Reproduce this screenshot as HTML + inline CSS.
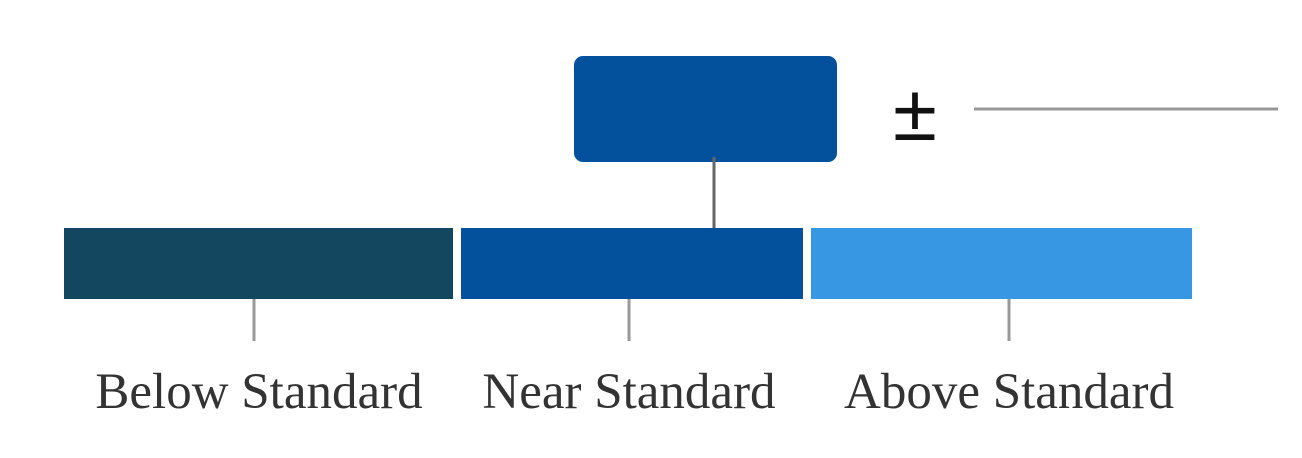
<!DOCTYPE html>
<html><head><meta charset="utf-8">
<style>
html,body{margin:0;padding:0;background:#fff;width:1302px;height:458px;overflow:hidden}
svg{display:block}
</style></head>
<body>
<svg id="chart" width="1302" height="458">
  <rect x="574" y="56" width="263" height="106" rx="9" fill="#03519c"/>
  <line x1="714" y1="157" x2="714" y2="228" stroke="#666" stroke-width="3"/>
  <text x="915" y="140" text-anchor="middle" font-family="'Liberation Sans', sans-serif" font-size="80" fill="#111">±</text>
  <line x1="974" y1="109" x2="1278" y2="109" stroke="#999" stroke-width="3"/>
  <g id="bands"></g>
</svg>
<script>
const categories = ["Below Standard", "Near Standard", "Above Standard"];
const bandStart = [0, 397, 747];
const bandEnd = [389, 739, 1128];
const tickValues = [190, 565, 945];
const bandColors = ["#12475f", "#03519c", "#3797e3"];

const x0 = 64;
function xScale(v){ return x0 + v; }

const g = document.getElementById('bands');
const NS = 'http://www.w3.org/2000/svg';
for (let i = 0; i < categories.length; i++) {
  const xa = xScale(bandStart[i]), xb = xScale(bandEnd[i]);
  const r = document.createElementNS(NS, 'rect');
  r.setAttribute('x', xa); r.setAttribute('y', 228);
  r.setAttribute('width', xb - xa); r.setAttribute('height', 71);
  r.setAttribute('fill', bandColors[i]);
  
  
  g.appendChild(r);
  const cx = xScale(tickValues[i]);
  const t = document.createElementNS(NS, 'line');
  t.setAttribute('x1', cx); t.setAttribute('x2', cx);
  t.setAttribute('y1', 299); t.setAttribute('y2', 341);
  t.setAttribute('stroke', '#999'); t.setAttribute('stroke-width', 3);
  
  
  g.appendChild(t);
  const tx = document.createElementNS(NS, 'text');
  tx.setAttribute('x', cx + (i === 0 ? 5 : 0)); tx.setAttribute('y', 408);
  tx.setAttribute('text-anchor', 'middle');
  tx.setAttribute('font-family', "'Liberation Serif', serif");
  tx.setAttribute('font-size', '51');
  tx.setAttribute('fill', '#333');
  tx.textContent = categories[i];
  
  
  g.appendChild(tx);
}
</script>
</body></html>
